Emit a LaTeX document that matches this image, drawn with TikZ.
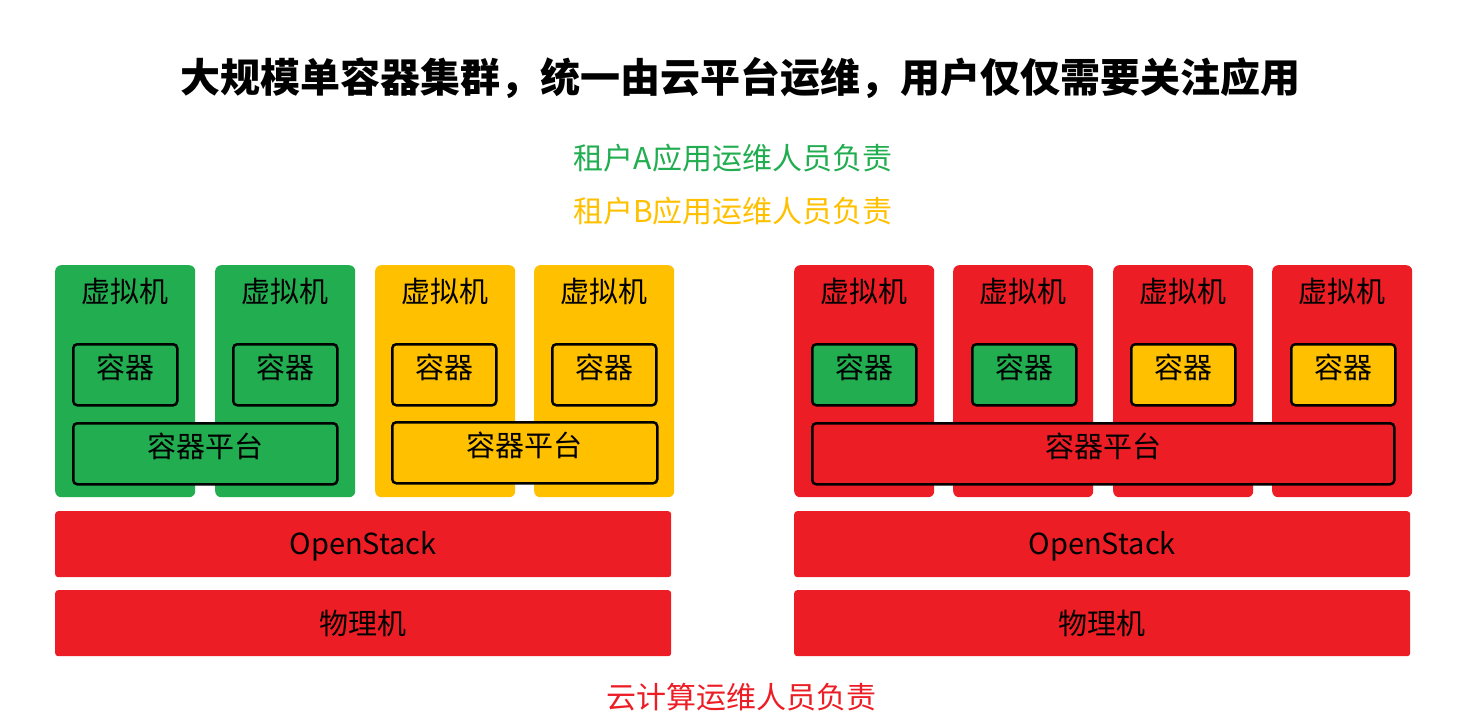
\documentclass[tikz,border=0pt]{standalone}
\usepackage{fontspec}
\setmainfont{Noto Sans CJK SC}
\usepackage{tikz}
\usetikzlibrary{positioning}

\definecolor{tgreen}{HTML}{21AD50}
\definecolor{tyellow}{HTML}{FFC000}
\definecolor{tred}{HTML}{ED1D25}

\begin{document}
\begin{tikzpicture}[x=1pt, y=-1pt, font=\fontsize{29pt}{34pt}\selectfont,
  vm/.style={fill=#1, rounded corners=6pt, anchor=north west, inner sep=0pt,
    minimum width=140pt, text height=37pt, text depth=195pt},
  ctr/.style={draw=black, line width=2.5pt, fill=#1, rounded corners=4pt, anchor=north west,
    inner sep=0pt, minimum width=104pt, minimum height=61pt, text height=18pt, text depth=10pt},
  plat/.style={ctr=#1, minimum height=61pt},
  bar/.style={fill=tred, rounded corners=3pt, anchor=north west, inner sep=0pt,
    minimum width=616pt, minimum height=66pt}]
\useasboundingbox (0,0) rectangle (1480,727);
\node[font=\fontsize{40pt}{46pt}\selectfont\bfseries] (title) at (740,78) {大规模单容器集群，统一由云平台运维，用户仅仅需要关注应用};
\node[text=tgreen, font=\fontsize{30pt}{34pt}\selectfont] (tenA) at (733,158) {租户A应用运维人员负责};
\node[text=tyellow, font=\fontsize{30pt}{34pt}\selectfont] (tenB) at (733,211) {租户B应用运维人员负责};
% left: one container platform per tenant
\foreach \x/\c/\n in {55/tgreen/1, 215/tgreen/2, 375/tyellow/3, 534/tyellow/4}
  \node[vm=\c] (vmL\n) at (\x,265) {虚拟机};
\foreach \x/\c/\n in {72/tgreen/1, 232/tgreen/2, 391/tyellow/3, 551/tyellow/4}
  \node[ctr=\c] (ctrL\n) at (\x,343) {容器};
\node[plat=tgreen, minimum width=264pt] (platL1) at (72,422) {容器平台};
\node[plat=tyellow, minimum width=265pt] (platL2) at (391,421) {容器平台};
% right: one shared container platform
\foreach \x/\n in {794/1, 953/2, 1113/3, 1272/4}
  \node[vm=tred] (vmR\n) at (\x,265) {虚拟机};
\foreach \x/\c/\n in {811/tgreen/1, 971/tgreen/2, 1130/tyellow/3, 1290/tyellow/4}
  \node[ctr=\c] (ctrR\n) at (\x,343) {容器};
\node[plat=tred, minimum width=582pt] (platR) at (811,422) {容器平台};
\node[bar, text height=22pt, text depth=2pt] (osL) at (55,511) {OpenStack};
\node[bar] (pmL) at (55,590) {物理机};
\node[bar, text height=22pt, text depth=2pt] (osR) at (794,511) {OpenStack};
\node[bar] (pmR) at (794,590) {物理机};
\node[text=tred, font=\fontsize{30pt}{34pt}\selectfont] (cloud) at (741,697) {云计算运维人员负责};
\end{tikzpicture}
\end{document}
